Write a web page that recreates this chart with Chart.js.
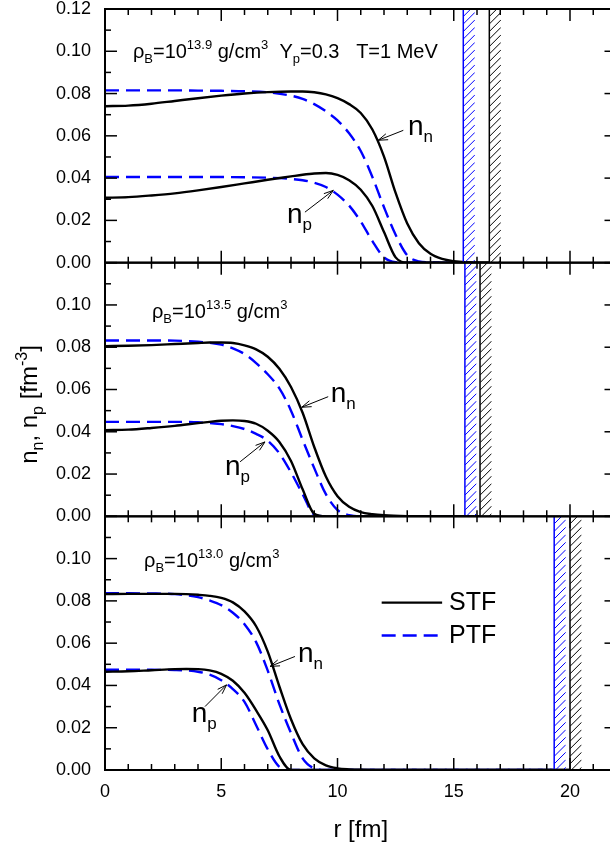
<!DOCTYPE html>
<html>
<head>
    <meta charset="utf-8">
    <title>Density profiles STF / PTF</title>
    <script src="https://cdn.jsdelivr.net/npm/chart.js@4"></script>
    <style>
        html, body { margin: 0; padding: 0; background: #fff; overflow: hidden; }
        #wrap { position: relative; width: 620px; height: 849px; }
    </style>
</head>
<body>
    <div id="wrap"><canvas id="profiles" width="620" height="849"></canvas></div>

    <script>
        // r grids [fm], one per panel (top: 10^13.9, middle: 10^13.5, bottom: 10^13.0)
        const r1 = [0, 1, 2, 3, 4, 5, 6, 7, 8, 8.5, 9, 9.5, 10, 10.5, 11, 11.5, 12, 12.5, 13, 13.5, 14, 14.5, 15, 15.5];
        const nnSTF1 = [0.0740, 0.0743, 0.0752, 0.0765, 0.0778, 0.0790, 0.0800, 0.0807, 0.0810, 0.0810, 0.0806, 0.0796, 0.0778, 0.0750, 0.0708, 0.0630, 0.0502, 0.0330, 0.0185, 0.0092, 0.0042, 0.0018, 0.0007, 0.0002];
        const npSTF1 = [0.0307, 0.0310, 0.0318, 0.0328, 0.0342, 0.0358, 0.0375, 0.0392, 0.0408, 0.0416, 0.0422, 0.0424, 0.0415, 0.0390, 0.0345, 0.0268, 0.0145, 0.0025, 0, 0, 0, 0, 0, 0];
        const nnPTF1 = [0.0815, 0.0815, 0.0815, 0.0815, 0.0814, 0.0813, 0.0811, 0.0806, 0.0790, 0.0775, 0.0750, 0.0716, 0.0673, 0.0612, 0.0528, 0.0405, 0.0262, 0.0132, 0.0035, 0.0006, 0.0001, 0, 0, 0];
        const npPTF1 = [0.0405, 0.0405, 0.0405, 0.0405, 0.0405, 0.0405, 0.0404, 0.0402, 0.0396, 0.0390, 0.0378, 0.0358, 0.0322, 0.0270, 0.0195, 0.0102, 0.0025, 0.0002, 0, 0, 0, 0, 0, 0];

        const r2 = [0, 1, 2, 3, 4, 4.5, 5, 5.5, 6, 6.5, 7, 7.5, 8, 8.5, 9, 9.5, 10, 10.5, 11, 11.5, 12, 13, 14];
        const nnSTF2 = [0.0805, 0.0807, 0.0810, 0.0815, 0.0820, 0.0822, 0.0822, 0.0820, 0.0809, 0.0790, 0.0755, 0.0698, 0.0612, 0.0490, 0.0328, 0.0188, 0.0095, 0.0045, 0.0020, 0.0010, 0.0005, 0.0001, 0];
        const npSTF2 = [0.0408, 0.0410, 0.0418, 0.0428, 0.0441, 0.0447, 0.0452, 0.0454, 0.0451, 0.0438, 0.0405, 0.0352, 0.0262, 0.0128, 0.0012, 0, 0, 0, 0, 0, 0, 0, 0];
        const nnPTF2 = [0.0832, 0.0832, 0.0832, 0.0831, 0.0826, 0.0821, 0.0812, 0.0795, 0.0768, 0.0725, 0.0672, 0.0605, 0.0500, 0.0362, 0.0228, 0.0105, 0.0030, 0.0005, 0, 0, 0, 0, 0];
        const npPTF2 = [0.0447, 0.0447, 0.0447, 0.0447, 0.0445, 0.0441, 0.0436, 0.0427, 0.0413, 0.0390, 0.0358, 0.0298, 0.0208, 0.0105, 0.0008, 0, 0, 0, 0, 0, 0, 0, 0];

        const r3 = [0, 1, 2, 3, 3.5, 4, 4.5, 5, 5.5, 6, 6.5, 7, 7.5, 8, 8.5, 9, 9.5, 10, 10.5, 11, 12];
        const nnSTF3 = [0.0832, 0.0833, 0.0833, 0.0833, 0.0832, 0.0829, 0.0824, 0.0814, 0.0793, 0.0750, 0.0680, 0.0560, 0.0395, 0.0240, 0.0122, 0.0055, 0.0022, 0.0008, 0.0003, 0.0001, 0];
        const npSTF3 = [0.0465, 0.0467, 0.0472, 0.0477, 0.0478, 0.0477, 0.0471, 0.0455, 0.0422, 0.0365, 0.0282, 0.0188, 0.0065, 0, 0, 0, 0, 0, 0, 0, 0];
        const nnPTF3 = [0.0836, 0.0836, 0.0835, 0.0832, 0.0827, 0.0818, 0.0802, 0.0780, 0.0744, 0.0690, 0.0605, 0.0470, 0.0312, 0.0175, 0.0055, 0.0008, 0, 0, 0, 0, 0];
        const npPTF3 = [0.0474, 0.0474, 0.0474, 0.0473, 0.0471, 0.0465, 0.0451, 0.0425, 0.0383, 0.0322, 0.0212, 0.0098, 0.0015, 0, 0, 0, 0, 0, 0, 0, 0];

        // Wigner-Seitz cell radii [fm] per panel
        const cellSTF = [16.53, 16.13, 20.0];
        const cellPTF = [15.41, 15.48, 19.32];

        const densityLabels = ['13.9', '13.5', '13.0'];
        const xTicks = [0, 5, 10, 15, 20];

        const FONT = '"Liberation Sans", Arial, Helvetica, sans-serif';
        const BLUE = '#0000ff';

        function curve(r, vals, cell, panel, ptf) {
            const pts = [];
            r.forEach((x, i) => { if (x < cell) pts.push({ x: x, y: vals[i] }); });
            pts.push({ x: cell, y: 0 });
            return {
                label: ptf ? 'PTF' : 'STF',
                data: pts,
                yAxisID: 'y' + panel,
                borderColor: ptf ? BLUE : '#000',
                borderWidth: 2.4,
                borderDash: ptf ? [14, 7] : [],
                pointRadius: 0,
                cubicInterpolationMode: 'monotone',
                fill: false
            };
        }

        const datasets = [
            curve(r1, nnSTF1, cellSTF[0], 1, false), curve(r1, npSTF1, cellSTF[0], 1, false),
            curve(r1, nnPTF1, cellPTF[0], 1, true), curve(r1, npPTF1, cellPTF[0], 1, true),
            curve(r2, nnSTF2, cellSTF[1], 2, false), curve(r2, npSTF2, cellSTF[1], 2, false),
            curve(r2, nnPTF2, cellPTF[1], 2, true), curve(r2, npPTF2, cellPTF[1], 2, true),
            curve(r3, nnSTF3, cellSTF[2], 3, false), curve(r3, npSTF3, cellSTF[2], 3, false),
            curve(r3, nnPTF3, cellPTF[2], 3, true), curve(r3, npPTF3, cellPTF[2], 3, true)
        ];

        function yScale(showTop) {
            return {
                type: 'linear', position: 'left', stack: 'panels', stackWeight: 1,
                min: 0, max: 0.12,
                grid: { display: false, drawTicks: false },
                border: { display: false },
                ticks: {
                    stepSize: 0.02, padding: 14, autoSkip: false, color: '#000',
                    font: { family: FONT, size: 18 },
                    callback: v => (!showTop && Math.abs(v - 0.12) < 1e-6) ? '' : v.toFixed(2)
                },
                afterFit: s => { s.width = 105; s.paddingTop = 0; s.paddingBottom = 0; }
            };
        }

        // label positions in data units (panel, x, y)
        const notes = [
            { p: 0, t: 'n', s: 'n', at: [13.03, 0.0602], from: [12.83, 0.0626], to: [11.75, 0.0579] },
            { p: 0, t: 'n', s: 'p', at: [7.83, 0.0190], from: [8.60, 0.0239], to: [9.82, 0.0342] },
            { p: 1, t: 'n', s: 'n', at: [9.71, 0.0542], from: [9.60, 0.0566], to: [8.46, 0.0516] },
            { p: 1, t: 'n', s: 'p', at: [5.16, 0.0195], from: [5.81, 0.0258], to: [6.88, 0.0352] },
            { p: 2, t: 'n', s: 'n', at: [8.30, 0.0512], from: [8.17, 0.0537], to: [7.10, 0.0490] },
            { p: 2, t: 'n', s: 'p', at: [3.73, 0.0229], from: [4.30, 0.0300], to: [5.23, 0.0403] }
        ];
        const titlePos = [[1.2, 0.0968], [2.02, 0.0939], [1.68, 0.0958]];

        function rich(ctx, x, y, parts) {
            let cx = x;
            parts.forEach(([t, size, dy]) => {
                ctx.font = size + 'px ' + FONT;
                ctx.fillText(t, cx, y + dy);
                cx += ctx.measureText(t).width;
            });
            return cx;
        }
        function richWidth(ctx, parts) {
            let w = 0;
            parts.forEach(([t, size]) => { ctx.font = size + 'px ' + FONT; w += ctx.measureText(t).width; });
            return w;
        }
        function seg(ctx, x0, y0, x1, y1) {
            ctx.beginPath(); ctx.moveTo(x0, y0); ctx.lineTo(x1, y1); ctx.stroke();
        }
        function arrow(ctx, x0, y0, x1, y1) {
            ctx.lineWidth = 1;
            seg(ctx, x0, y0, x1, y1);
            const a = Math.atan2(y1 - y0, x1 - x0), L = 10, w = 0.32;
            ctx.beginPath();
            ctx.moveTo(x1 - L * Math.cos(a - w), y1 - L * Math.sin(a - w));
            ctx.lineTo(x1, y1);
            ctx.lineTo(x1 - L * Math.cos(a + w), y1 - L * Math.sin(a + w));
            ctx.stroke();
        }
        function hatch(ctx, xs, ys, r, color) {
            const x0 = xs.getPixelForValue(r), x1 = xs.getPixelForValue(r + 0.5);
            const top = ys.top, bot = ys.bottom;
            ctx.save();
            ctx.strokeStyle = color;
            ctx.lineWidth = 1.5;
            seg(ctx, x0, top, x0, bot);
            ctx.beginPath(); ctx.rect(x0, top, x1 - x0, bot - top); ctx.clip();
            ctx.lineWidth = 1;
            const w = x1 - x0;
            for (let y = top; y <= bot + w + 8; y += 7.5) seg(ctx, x0, y, x1, y - w);
            ctx.restore();
        }

        const decor = {
            id: 'decor',
            afterDatasetsDraw(chart) {
                const ctx = chart.ctx, xs = chart.scales.x;
                const panels = [chart.scales.y1, chart.scales.y2, chart.scales.y3];
                const L = chart.chartArea.left, R = chart.chartArea.right;
                ctx.save();
                panels.forEach((ys, i) => {
                    hatch(ctx, xs, ys, cellPTF[i], BLUE);
                    hatch(ctx, xs, ys, cellSTF[i], '#000');
                });

                ctx.strokeStyle = '#000';
                panels.forEach(ys => {
                    const top = ys.top, bot = ys.bottom;
                    ctx.lineWidth = 1.5;
                    for (let v = 0; v <= 22; v++) {
                        const px = xs.getPixelForValue(v), len = v % 5 === 0 ? 12 : 6;
                        seg(ctx, px, bot, px, bot - len);
                        seg(ctx, px, top, px, top + len);
                    }
                    for (let k = 0; k <= 12; k++) {
                        const py = ys.getPixelForValue(k * 0.01), len = k % 2 === 0 ? 12 : 6;
                        seg(ctx, L, py, L + len, py);
                        seg(ctx, R, py, R - len, py);
                    }
                    ctx.lineWidth = 2;
                    ctx.strokeRect(L, top, R - L, bot - top);
                });

                ctx.fillStyle = '#000';
                ctx.textBaseline = 'alphabetic';
                ctx.textAlign = 'left';
                titlePos.forEach(([x, y], i) => {
                    const ys = panels[i];
                    const parts = [['ρ', 20, 0], ['B', 13, 5], ['=10', 20, 0], [densityLabels[i], 13, -9], [' g/cm', 20, 0], ['3', 13, -9]];
                    if (i === 0) parts.push(['  Y', 20, 0], ['p', 13, 5], ['=0.3   T=1 MeV', 20, 0]);
                    rich(ctx, xs.getPixelForValue(x), ys.getPixelForValue(y), parts);
                });

                notes.forEach(n => {
                    const ys = panels[n.p];
                    rich(ctx, xs.getPixelForValue(n.at[0]), ys.getPixelForValue(n.at[1]), [[n.t, 28, 0], [n.s, 17, 7]]);
                    arrow(ctx, xs.getPixelForValue(n.from[0]), ys.getPixelForValue(n.from[1]),
                        xs.getPixelForValue(n.to[0]), ys.getPixelForValue(n.to[1]));
                });

                // legend inside bottom panel
                const y3 = panels[2];
                [['STF', '#000', [], 0.0792], ['PTF', BLUE, [14, 7], 0.0636]].forEach(([txt, col, dash, v]) => {
                    const py = y3.getPixelForValue(v);
                    ctx.strokeStyle = col; ctx.lineWidth = 2.4; ctx.setLineDash(dash);
                    seg(ctx, xs.getPixelForValue(11.9), py, xs.getPixelForValue(14.5), py);
                    ctx.setLineDash([]);
                    ctx.font = '25px ' + FONT; ctx.textBaseline = 'middle'; ctx.fillStyle = '#000';
                    ctx.fillText(txt, xs.getPixelForValue(14.8), py + 1);
                });

                // y axis title
                ctx.textBaseline = 'alphabetic';
                const tparts = [['n', 24, 0], ['n', 16, 6], [', n', 24, 0], ['p', 16, 6], [' [fm', 24, 0], ['-3', 16, -10], [']', 24, 0]];
                const tw = richWidth(ctx, tparts);
                ctx.translate(37, (panels[0].top + panels[2].bottom) / 2 + 15);
                ctx.rotate(-Math.PI / 2);
                rich(ctx, -tw / 2, 0, tparts);
                ctx.restore();
            }
        };

        new Chart(document.getElementById('profiles'), {
            type: 'line',
            data: { datasets: datasets },
            options: {
                responsive: false,
                devicePixelRatio: 1,
                animation: false,
                layout: { padding: { top: 9, right: 3.5, left: 0, bottom: 0 } },
                plugins: { legend: { display: false }, tooltip: { enabled: false } },
                scales: {
                    x: {
                        type: 'linear', position: 'bottom', min: 0, max: 22,
                        grid: { display: false, drawTicks: false },
                        border: { display: false },
                        afterBuildTicks: s => { s.ticks = xTicks.map(v => ({ value: v })); },
                        ticks: { padding: 11, maxRotation: 0, autoSkip: false, color: '#000', font: { family: FONT, size: 18 } },
                        title: { display: true, text: 'r [fm]', color: '#000', font: { family: FONT, size: 24 }, padding: { top: 0, bottom: 4 } },
                        afterFit: s => { s.height = 79; s.paddingLeft = 0; s.paddingRight = 0; }
                    },
                    // stacked left axes are placed bottom-up, so the bottom panel comes first
                    y3: yScale(false),
                    y2: yScale(false),
                    y1: yScale(true)
                }
            },
            plugins: [decor]
        });
    </script>
</body>
</html>
